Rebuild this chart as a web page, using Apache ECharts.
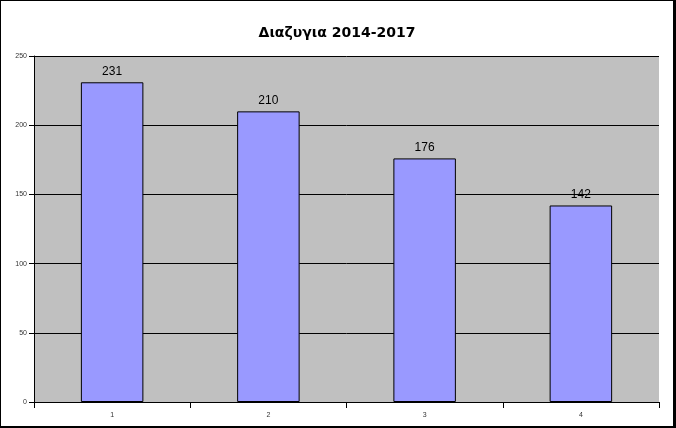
<!DOCTYPE html>
<html><head><meta charset="utf-8">
<script src="https://cdn.jsdelivr.net/npm/echarts@6/dist/echarts.min.js"></script>
<style>html,body{margin:0;padding:0;background:#fff}#c{width:676px;height:428px;box-sizing:border-box;border:1px solid #000;border-right-width:3px;border-bottom-width:2px}</style>
</head><body><div id="c"></div>
<script>
const title = 'Διαζυγια 2014-2017';
const categories = ['1', '2', '3', '4'];
const values = [231, 210, 176, 142];
const yTicks = {min: 0, max: 250, interval: 50};

const chart = echarts.init(document.getElementById('c'), null, {renderer: 'canvas'});
chart.setOption({
  animation: false,
  backgroundColor: '#fff',
  title: {
    text: title, left: 'center', top: 20,
    textStyle: {fontFamily: '"Comic Sans MS", "DejaVu Sans", sans-serif', fontWeight: 'bold', fontSize: 14, color: '#000'}
  },
  grid: {left: 33, right: 14, top: 55, bottom: 24, show: true, backgroundColor: '#c0c0c0', borderWidth: 0},
  xAxis: {
    type: 'category', data: categories,
    axisLine: {lineStyle: {color: '#000', width: 1}},
    axisTick: {show: true, length: 6, lineStyle: {color: '#000'}},
    axisLabel: {fontSize: 7, color: '#333', margin: 10, fontFamily: 'Liberation Sans, Arial, sans-serif'}
  },
  yAxis: {
    type: 'value', min: yTicks.min, max: yTicks.max, interval: yTicks.interval,
    axisLine: {show: true, lineStyle: {color: '#000', width: 1}},
    axisTick: {show: true, length: 5, lineStyle: {color: '#000'}},
    axisLabel: {fontSize: 7, color: '#333', margin: 7, fontFamily: 'Liberation Sans, Arial, sans-serif'},
    splitLine: {show: true, lineStyle: {color: '#000', width: 1}}
  },
  series: [{
    type: 'bar', data: values, barWidth: '40%',
    itemStyle: {color: '#9999ff', borderColor: '#000', borderWidth: 1},
    label: {show: true, position: 'top', distance: 5, fontSize: 12, color: '#000', fontFamily: 'Liberation Sans, Arial, sans-serif'}
  }]
});
</script></body></html>
